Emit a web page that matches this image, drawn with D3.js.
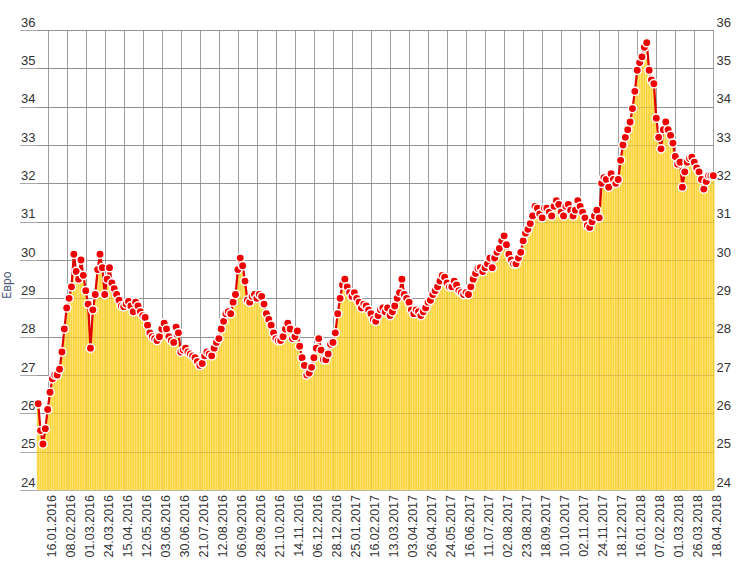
<!DOCTYPE html>
<html>
<head>
<meta charset="utf-8">
<script src="https://cdn.jsdelivr.net/npm/d3@7.9.0/dist/d3.min.js"></script>
<style>
  html, body { margin: 0; padding: 0; background: #fff; }
  svg { display: block; font-family: Roboto, "Noto Sans", Arial, sans-serif; }
  .tick text { fill: #333; }
</style>
</head>
<body>
<svg id="chart" width="753" height="563"></svg>
<script>
// дати под оста X (всеки 8-ми запис)
const tickLabels = [
  '16.01.2016', '08.02.2016', '01.03.2016', '24.03.2016', '15.04.2016', '12.05.2016',
  '03.06.2016', '30.06.2016', '21.07.2016', '12.08.2016', '06.09.2016', '28.09.2016',
  '21.10.2016', '14.11.2016', '06.12.2016', '28.12.2016', '25.01.2017', '16.02.2017',
  '13.03.2017', '03.04.2017', '26.04.2017', '24.05.2017', '16.06.2017', '11.07.2017',
  '02.08.2017', '23.08.2017', '18.09.2017', '10.10.2017', '02.11.2017', '24.11.2017',
  '18.12.2017', '16.01.2018', '07.02.2018', '01.03.2018', '26.03.2018', '18.04.2018'
];
const tickStart = 4, tickStep = 8;

// цена в евро, по 8 стойности между два етикета
const prices = [
  26.25, 25.55, 25.2, 25.6,
  26.1, 26.55, 26.9, 27.0, 27.0, 27.15, 27.6, 28.2,
  28.75, 29.0, 29.3, 30.15, 29.7, 29.5, 30.0, 29.6,
  29.2, 28.85, 27.7, 28.7, 29.1, 29.75, 30.15, 29.8,
  29.1, 29.5, 29.8, 29.4, 29.25, 29.1, 28.95, 28.8,
  28.78, 28.85, 28.92, 28.8, 28.65, 28.9, 28.8, 28.65,
  28.55, 28.5, 28.3, 28.1, 28.0, 27.95, 27.9, 28.0,
  28.2, 28.35, 28.2, 28.0, 27.9, 27.85, 28.25, 28.1,
  27.6, 27.65, 27.7, 27.6, 27.55, 27.5, 27.45, 27.35,
  27.25, 27.3, 27.5, 27.6, 27.55, 27.5, 27.7, 27.85,
  27.95, 28.2, 28.4, 28.6, 28.65, 28.6, 28.9, 29.1,
  29.75, 30.05, 29.85, 29.45, 28.95, 28.9, 29.05, 29.1,
  29.0, 29.1, 29.05, 28.85, 28.6, 28.45, 28.3, 28.1,
  27.95, 27.9, 27.9, 28.0, 28.2, 28.35, 28.2, 27.95,
  28.0, 28.15, 27.75, 27.45, 27.25, 27.0, 27.05, 27.2,
  27.45, 27.7, 27.95, 27.65, 27.4, 27.4, 27.55, 27.8,
  27.85, 28.1, 28.6, 29.0, 29.35, 29.5, 29.3, 29.15,
  29.05, 29.15, 29.0, 28.9, 28.75, 28.85, 28.8, 28.7,
  28.6, 28.45, 28.4, 28.55, 28.7, 28.75, 28.65, 28.75,
  28.55, 28.65, 28.8, 29.0, 29.15, 29.5, 29.1, 29.0,
  28.9, 28.7, 28.6, 28.7, 28.65, 28.55, 28.65, 28.75,
  28.9, 28.95, 29.1, 29.2, 29.3, 29.45, 29.6, 29.55,
  29.4, 29.3, 29.3, 29.45, 29.35, 29.2, 29.15, 29.1,
  29.15, 29.1, 29.3, 29.5, 29.65, 29.78, 29.8, 29.7,
  29.8, 29.9, 30.05, 29.8, 30.05, 30.2, 30.3, 30.5,
  30.63, 30.4, 30.15, 30.0, 29.9, 29.9, 30.05, 30.2,
  30.5, 30.7, 30.8, 30.95, 31.15, 31.4, 31.35, 31.2,
  31.1, 31.35, 31.35, 31.25, 31.15, 31.4, 31.55, 31.45,
  31.25, 31.15, 31.4, 31.45, 31.3, 31.15, 31.3, 31.55,
  31.4, 31.25, 31.1, 30.9, 30.85, 31.0, 31.15, 31.3,
  31.1, 32.0, 32.15, 32.1, 31.9, 32.25, 32.1, 32.0,
  32.1, 32.6, 33.0, 33.2, 33.4, 33.6, 33.95, 34.4,
  34.95, 35.15, 35.3, 35.55, 35.67, 34.95, 34.7, 34.6,
  33.7, 33.2, 32.9, 33.4, 33.6, 33.4, 33.25, 33.05,
  32.7, 32.5, 32.55, 31.9, 32.3, 32.55, 32.65, 32.68,
  32.55, 32.4, 32.3, 32.1, 31.85, 32.05, 32.2, 32.2,
  32.2
];

const yTicks = d3.range(24, 37);
const yTitle = 'Евро';

const plotL = 37, plotR = 714.5, plotT = 30, plotB = 490;
const svg = d3.select('#chart');

const x = d3.scaleBand().domain(d3.range(prices.length)).range([plotL, plotR]).padding(0);
const y = d3.scaleLinear().domain([24, 36]).range([plotB, plotT]);
const tickIdx = tickLabels.map((d, i) => tickStart + i * tickStep);
const xc = i => x(i) + x.bandwidth() / 2;

// решетка (под стълбовете)
const grid = svg.append('g');
grid.selectAll('line.h').data(yTicks).join('line').attr('class', 'h')
  .attr('x1', 20).attr('x2', plotR - 1)
  .attr('y1', d => Math.round(y(d)) + 0.5).attr('y2', d => Math.round(y(d)) + 0.5)
  .attr('stroke', '#a9a9a9');
grid.selectAll('line.v').data(tickIdx).join('line').attr('class', 'v')
  .attr('x1', d => Math.round(xc(d)) + 0.5).attr('x2', d => Math.round(xc(d)) + 0.5)
  .attr('y1', plotT).attr('y2', plotB)
  .attr('stroke', '#a9a9a9');

// стълбове
svg.append('g').selectAll('rect').data(prices).join('rect')
  .attr('x', (d, i) => x(i))
  .attr('width', x.bandwidth())
  .attr('y', d => y(d))
  .attr('height', d => plotB - y(d))
  .attr('fill', '#fdd63f')
  .attr('stroke', '#fee68c')
  .attr('stroke-width', 0.45);

// решетка върху стълбовете (слабо)
const gridTop = svg.append('g').attr('stroke', '#000');
gridTop.selectAll('line.h').data(yTicks.slice(1)).join('line')
  .attr('stroke-opacity', 0.13)
  .attr('x1', plotL).attr('x2', plotR - 1)
  .attr('y1', d => Math.round(y(d)) + 0.5).attr('y2', d => Math.round(y(d)) + 0.5);
gridTop.selectAll('line.v').data(tickIdx).join('line')
  .attr('stroke-opacity', 0.06)
  .attr('x1', d => Math.round(xc(d)) + 0.5).attr('x2', d => Math.round(xc(d)) + 0.5)
  .attr('y1', plotT).attr('y2', plotB);

// ос Y отляво и отдясно
const yl = svg.append('g').attr('transform', 'translate(20,0)')
  .call(d3.axisLeft(y).tickValues(yTicks).tickSize(0).tickFormat(d3.format('d')));
yl.select('.domain').remove();
yl.selectAll('text').attr('x', 1).attr('dy', -4).attr('text-anchor', 'start')
  .style('font-size', '13px');

const yr = svg.append('g').attr('transform', `translate(${plotR + 2},0)`)
  .call(d3.axisRight(y).tickValues(yTicks).tickSize(0).tickFormat(d3.format('d')));
yr.select('.domain').remove();
yr.selectAll('text').attr('x', 0).attr('dy', -4).attr('text-anchor', 'start')
  .style('font-size', '13px');

// ос X
const xa = svg.append('g').attr('transform', `translate(0,${plotB})`)
  .call(d3.axisBottom(x).tickValues(tickIdx).tickSize(0)
    .tickFormat((d, i) => tickLabels[i]));
xa.select('.domain').remove();
xa.selectAll('text')
  .attr('transform', 'rotate(-90)')
  .attr('x', -5).attr('y', 3.5).attr('dy', '0.35em')
  .attr('text-anchor', 'end')
  .style('font-size', '12.5px');

// заглавие на ос Y
svg.append('text')
  .attr('transform', 'translate(11,285) rotate(-90)')
  .attr('text-anchor', 'middle')
  .attr('fill', '#4b5a78')
  .style('font-size', '12px')
  .text(yTitle);

// линия и точки
const line = d3.line().x((d, i) => xc(i)).y(d => y(d));
svg.append('path').datum(prices)
  .attr('d', line).attr('fill', 'none')
  .attr('stroke', '#e00000').attr('stroke-width', 2.2);

svg.append('g').selectAll('circle').data(prices).join('circle')
  .attr('cx', (d, i) => xc(i))
  .attr('cy', d => y(d))
  .attr('r', 4.2)
  .attr('fill', '#f00000')
  .attr('stroke', '#fff')
  .attr('stroke-width', 1.5);
</script>
</body>
</html>
